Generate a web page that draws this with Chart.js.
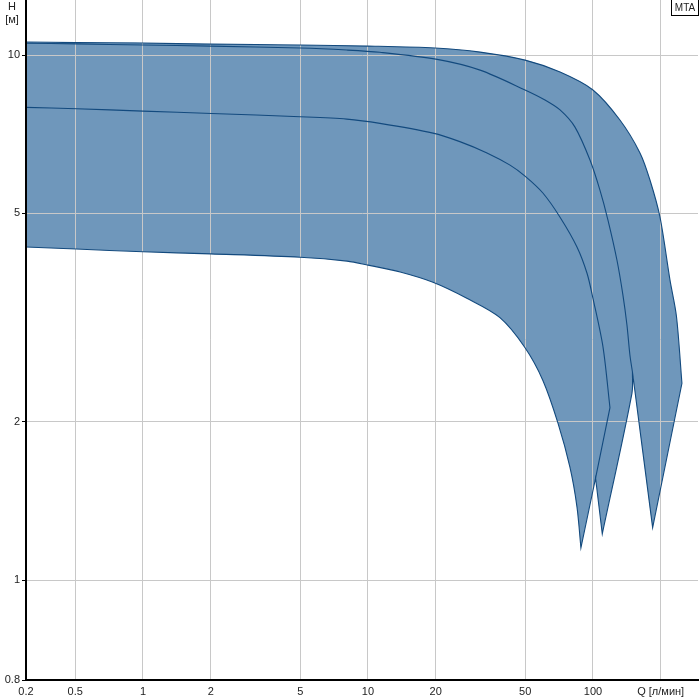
<!DOCTYPE html>
<html>
<head>
<meta charset="utf-8">
<script src="https://cdn.jsdelivr.net/npm/chart.js@4/dist/chart.umd.min.js"></script>
<style>
html,body{margin:0;padding:0;background:#fff;}
#wrap{width:700px;height:700px;position:relative;}
</style>
</head>
<body>
<div id="wrap"><canvas id="c"></canvas></div>
<script>
// Axis ticks
const xTickValues = [0.302, 0.5, 1, 2, 5, 10, 20, 50, 100, 200];
const xTickLabels = ["0.2", "0.5", "1", "2", "5", "10", "20", "50", "100", "Q [л/мин]"];
const yTickValues = [0.645, 1, 2, 5, 10];
const yTickLabels = ["0.8", "1", "2", "5", "10"];
const xMin = 0.302, xMax = 293;
const yMin = 0.645, yMax = 12.73;

// Outer (max) curve, left to right
const maxQ = [0.302, 0.504, 1, 2.0, 4.99, 10, 19.86, 31.5, 49.9, 71.4, 100, 131.8, 161.8, 179.2, 198.6, 219.9, 235.0, 248.6];
const maxH = [10.59, 10.56, 10.54, 10.49, 10.45, 10.40, 10.31, 10.13, 9.78, 9.28, 8.58, 7.52, 6.51, 5.78, 4.91, 3.73, 3.18, 2.37];

// Envelope closing path at the right (spike tips and notch)
const tailQ = [184.2, 149.8, 149.1, 110.0, 102.7, 88.4];
const tailH = [1.258, 2.49, 2.27, 1.224, 1.564, 1.151];
const tailCorner = [true, true, false, true, true, true];

// Lower (min) curve, left to right (ends at first spike tip)
const minQ = [0.302, 0.504, 1, 2.0, 4.99, 8.07, 10, 13.9, 19.45, 27.5, 38.6, 49.9, 59.9, 69.9, 79.0, 84.9, 88.4];
const minH = [4.31, 4.27, 4.22, 4.18, 4.12, 4.05, 3.98, 3.86, 3.69, 3.44, 3.16, 2.77, 2.40, 1.99, 1.64, 1.378, 1.151];

// Inner curve 1 (just below max)
const midAQ = [0.302, 0.504, 1, 2.0, 4.99, 8.05, 11.3, 20.3, 31.5, 49.9, 61.2, 71.4, 83.2, 97.0, 107.4, 116.6, 127.8, 135.9, 141.6, 146.0, 149.8];
const midAH = [10.53, 10.50, 10.45, 10.40, 10.31, 10.22, 10.12, 9.81, 9.36, 8.58, 8.21, 7.86, 7.29, 6.31, 5.53, 4.85, 4.07, 3.49, 3.06, 2.68, 2.49];

// Inner curve 2 (kink at index 18, ends on the envelope)
const midBQ = [0.302, 0.507, 1, 2.02, 4.99, 8.05, 11.3, 19.45, 25.6, 33.8, 42.8, 49.9, 59.9, 71.4, 84.9, 94.1, 100, 110.8, 119.0, 102.7];
const midBH = [7.95, 7.90, 7.82, 7.74, 7.63, 7.55, 7.41, 7.10, 6.84, 6.51, 6.17, 5.88, 5.46, 4.91, 4.31, 3.84, 3.44, 2.78, 2.13, 1.564];
const midBKink = 18;

const pt = (q, h) => ({x: q, y: h});
const pts = (qs, hs) => qs.map((q, i) => pt(q, hs[i]));
// a doubled vertex keeps a sharp corner when the line is smoothed
const corner = p => [p, {x: p.x, y: p.y}];

let envelope = pts(maxQ.slice(0, -1), maxH.slice(0, -1));
envelope = envelope.concat(corner(pt(maxQ[maxQ.length - 1], maxH[maxH.length - 1])));
tailQ.forEach((q, i) => {
  const p = pt(q, tailH[i]);
  envelope = envelope.concat(tailCorner[i] ? corner(p) : [p]);
});
envelope = envelope.concat(pts(minQ, minH).reverse().slice(1));

let midB = [];
midBQ.forEach((q, i) => {
  const p = pt(q, midBH[i]);
  midB = midB.concat(i === midBKink ? corner(p) : [p]);
});

const FILL = '#6f97bb';
const LINE = '#134a7e';
const GRID = '#c8c8c8';
const FONT = {family: '"Liberation Sans", Arial, sans-serif', size: 11};
const TENSION = 0.3;

const gridOverFill = {
  id: 'gridOverFill',
  afterDatasetDraw(chart, args) {
    if (args.index !== 0) return;
    const a = chart.chartArea, ctx = chart.ctx;
    ctx.save();
    ctx.beginPath();
    ctx.rect(a.left, a.top, a.right - a.left, a.bottom - a.top);
    ctx.clip();
    chart.scales.x.drawGrid(a);
    chart.scales.y.drawGrid(a);
    ctx.restore();
  }
};

const extras = {
  id: 'extras',
  afterDraw(chart) {
    const ctx = chart.ctx;
    ctx.save();
    ctx.font = '11px "Liberation Sans", Arial, sans-serif';
    ctx.fillStyle = '#222';
    ctx.textAlign = 'center';
    ctx.textBaseline = 'middle';
    ctx.fillText('H', 12, 7);
    ctx.fillText('[м]', 12, 20);
    ctx.fillStyle = '#fff';
    ctx.fillRect(671, 0, 28, 16);
    ctx.strokeStyle = '#000';
    ctx.lineWidth = 1;
    ctx.strokeRect(671.5, -0.5, 27, 16);
    ctx.fillStyle = '#222';
    ctx.font = '10px "Liberation Sans", Arial, sans-serif';
    ctx.fillText('MTA', 685, 8);
    ctx.restore();
  }
};

const lineDs = (data, extra) => Object.assign({data, showLine: true, fill: false, borderColor: LINE,
  borderWidth: 1.1, pointRadius: 0, tension: TENSION, order: 1}, extra || {});

new Chart(document.getElementById('c'), {
  type: 'scatter',
  data: {
    datasets: [
      lineDs(envelope, {fill: 'shape', backgroundColor: FILL, borderWidth: 0, order: 3}),
      lineDs(envelope),
      lineDs(pts(midAQ, midAH)),
      lineDs(midB)
    ]
  },
  options: {
    responsive: true,
    maintainAspectRatio: false,
    animation: false,
    events: [],
    layout: {padding: {top: 0, right: 2, bottom: 0, left: 0}},
    plugins: {legend: {display: false}, tooltip: {enabled: false}},
    scales: {
      x: {
        type: 'logarithmic', min: xMin, max: xMax, bounds: 'data',
        afterBuildTicks: s => { s.ticks = xTickValues.map(v => ({value: v})); },
        afterFit: s => { s.height = 20; s.paddingLeft = 0; s.paddingRight = 0; },
        ticks: {autoSkip: false, maxRotation: 0, padding: 1, color: '#222', font: FONT,
          callback: (v, i) => xTickLabels[i]},
        grid: {color: GRID, lineWidth: 1, tickLength: 4, tickColor: 'rgba(0,0,0,0)'},
        border: {color: '#000', width: 2, z: 1}
      },
      y: {
        type: 'logarithmic', min: yMin, max: yMax, bounds: 'data',
        afterBuildTicks: s => { s.ticks = yTickValues.map(v => ({value: v})); },
        afterFit: s => { s.width = 26; s.paddingTop = 0; s.paddingBottom = 0; },
        ticks: {autoSkip: false, padding: 2, color: '#222', font: FONT,
          callback: (v, i) => yTickLabels[i]},
        grid: {color: GRID, lineWidth: 1, tickLength: 4, tickColor: '#000'},
        border: {color: '#000', width: 2, z: 1}
      }
    }
  },
  plugins: [gridOverFill, extras]
});
</script>
</body>
</html>
